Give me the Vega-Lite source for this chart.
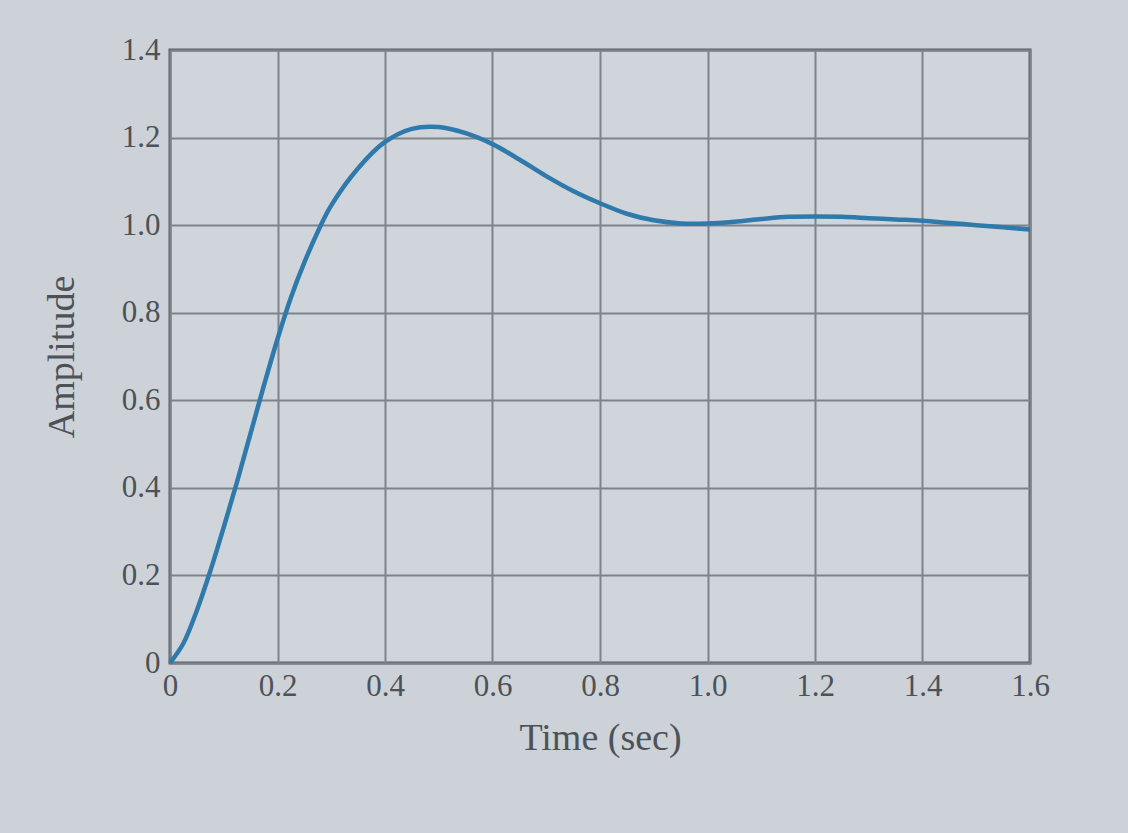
{
  "$schema": "https://vega.github.io/schema/vega-lite/v6.json",
  "width": 860,
  "height": 613,
  "autosize": {"type": "none"},
  "padding": {"left": 170, "top": 50, "right": 98, "bottom": 170},
  "background": "#ccd2d7",
  "config": {
    "view": {"fill": "#d0d5dc", "stroke": "#596067", "strokeWidth": 3},
    "font": "Liberation Serif",
    "axis": {
      "labelFont": "Liberation Serif",
      "titleFont": "Liberation Serif",
      "labelColor": "#4c5258",
      "titleColor": "#4c5258",
      "labelFontSize": 31,
      "titleFontSize": 38,
      "titleFontWeight": "normal",
      "gridColor": "#7c838a",
      "gridWidth": 2,
      "gridOpacity": 1,
      "ticks": false,
      "domain": false,
      "labelFlush": false
    }
  },
  "data": {
    "values": [
      {"t": 0, "a": 0},
      {"t": 0.025, "a": 0.045},
      {"t": 0.05, "a": 0.12},
      {"t": 0.075, "a": 0.21},
      {"t": 0.1, "a": 0.31},
      {"t": 0.125, "a": 0.415},
      {"t": 0.15, "a": 0.525},
      {"t": 0.175, "a": 0.635},
      {"t": 0.2, "a": 0.74},
      {"t": 0.225, "a": 0.835},
      {"t": 0.25, "a": 0.915},
      {"t": 0.275, "a": 0.985},
      {"t": 0.3, "a": 1.045},
      {"t": 0.35, "a": 1.13},
      {"t": 0.4, "a": 1.19},
      {"t": 0.45, "a": 1.22},
      {"t": 0.5, "a": 1.224},
      {"t": 0.55, "a": 1.21},
      {"t": 0.6, "a": 1.185},
      {"t": 0.65, "a": 1.15},
      {"t": 0.7, "a": 1.112},
      {"t": 0.75, "a": 1.078},
      {"t": 0.8, "a": 1.05},
      {"t": 0.85, "a": 1.026},
      {"t": 0.9, "a": 1.011},
      {"t": 0.95, "a": 1.004},
      {"t": 1.0, "a": 1.004},
      {"t": 1.05, "a": 1.008},
      {"t": 1.1, "a": 1.014},
      {"t": 1.15, "a": 1.019},
      {"t": 1.2, "a": 1.02},
      {"t": 1.25, "a": 1.019},
      {"t": 1.3, "a": 1.016},
      {"t": 1.35, "a": 1.013},
      {"t": 1.4, "a": 1.01},
      {"t": 1.45, "a": 1.005},
      {"t": 1.5, "a": 1.0},
      {"t": 1.55, "a": 0.995},
      {"t": 1.6, "a": 0.99}
    ]
  },
  "mark": {"type": "line", "color": "#2f79ab", "strokeWidth": 4.5, "interpolate": "catmull-rom"},
  "encoding": {
    "x": {
      "field": "t",
      "type": "quantitative",
      "scale": {"domain": [0, 1.6], "nice": false},
      "axis": {
        "title": "Time (sec)",
        "values": [0, 0.2, 0.4, 0.6, 0.8, 1.0, 1.2, 1.4, 1.6],
        "labelExpr": "datum.value == 0 ? '0' : format(datum.value, '.1f')",
        "labelPadding": 8,
        "titlePadding": 18
      }
    },
    "y": {
      "field": "a",
      "type": "quantitative",
      "scale": {"domain": [0, 1.4], "nice": false},
      "axis": {
        "title": "Amplitude",
        "values": [0, 0.2, 0.4, 0.6, 0.8, 1.0, 1.2, 1.4],
        "labelExpr": "datum.value == 0 ? '0' : format(datum.value, '.1f')",
        "labelPadding": 10,
        "titlePadding": 40
      }
    }
  }
}
